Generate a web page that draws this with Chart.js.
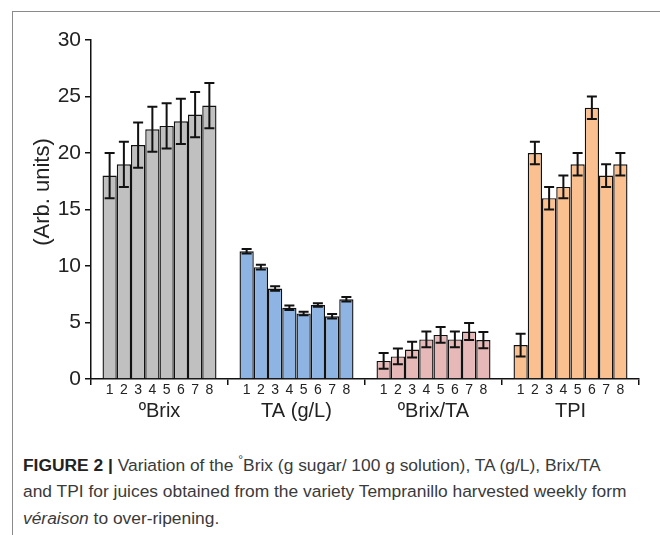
<!DOCTYPE html>
<html>
<head>
<meta charset="utf-8">
<script src="https://cdn.jsdelivr.net/npm/chart.js@4/dist/chart.umd.min.js"></script>
<style>
  body { margin: 0; background: #fff; width: 660px; height: 535px; overflow: hidden; position: relative; }
  #frame { position: absolute; left: 12px; top: 11px; width: 700px; height: 540px; border: 1.5px solid #8a8a8a; }
  #wrap { position: absolute; left: 0; top: 0; width: 660px; height: 430px; }
  #caption { position: absolute; left: 23px; top: 447px; font-family: "Liberation Sans", Arial, sans-serif;
    font-size: 17.4px; line-height: 26.5px; color: #3a3a3a; white-space: nowrap; }
  #caption b { color: #222; }
</style>
</head>
<body>
<div id="frame"></div>
<div id="wrap"><canvas id="myChart" width="660" height="430"></canvas></div>
<div id="caption"><b>FIGURE 2 |</b> Variation of the <sup style="font-size:12px">°</sup>Brix (g sugar/ 100 g solution), TA (g/L), Brix/TA<br>and TPI for juices obtained from the variety Tempranillo harvested weekly form<br><i>véraison</i> to over-ripening.</div>
<script>
const groups = ['ºBrix', 'TA (g/L)', 'ºBrix/TA', 'TPI'];
const weeks = ['1', '2', '3', '4', '5', '6', '7', '8'];

const brix = [18.0, 19.0, 20.7, 22.1, 22.4, 22.8, 23.4, 24.2];
const brixErr = [2, 2, 2, 2, 2, 2, 2, 2];
const ta = [11.3, 9.9, 8.0, 6.3, 5.8, 6.55, 5.55, 7.05];
const taErr = [0.2, 0.2, 0.2, 0.2, 0.15, 0.15, 0.2, 0.2];
const ratio = [1.6, 2.0, 2.6, 3.5, 3.9, 3.5, 4.2, 3.45];
const ratioErr = [0.7, 0.7, 0.7, 0.7, 0.7, 0.7, 0.75, 0.72];
const tpi = [3, 20, 16, 17, 19, 24, 18, 19];
const tpiErr = [1, 1, 1, 1, 1, 1, 1, 1];

const groupColors = ['#c0c0c0', '#8db4e2', '#e6b9b8', '#fac090'];
const allValues = [brix, ta, ratio, tpi];
const allErrors = [brixErr, taErr, ratioErr, tpiErr];

// one dataset per week, one category per measured variable
const datasets = weeks.map((w, i) => ({
    label: 'Week ' + w,
    data: allValues.map(arr => arr[i]),
    backgroundColor: groupColors,
    borderColor: '#111',
    borderWidth: 1.4,
    barPercentage: 1,
    categoryPercentage: 0.832,
}));

const extras = {
    id: 'extras',
    afterDatasetsDraw(chart) {
        const c = chart.ctx;
        const y = chart.scales.y;
        c.save();
        c.strokeStyle = '#111';
        c.lineWidth = 2;
        chart.data.datasets.forEach((ds, i) => {
            const meta = chart.getDatasetMeta(i);
            meta.data.forEach((bar, j) => {
                const v = ds.data[j];
                const e = allErrors[j][i];
                const yt = y.getPixelForValue(v + e);
                const yb = y.getPixelForValue(v - e);
                c.beginPath();
                c.moveTo(bar.x, yt); c.lineTo(bar.x, yb);
                c.moveTo(bar.x - 5, yt); c.lineTo(bar.x + 5, yt);
                c.moveTo(bar.x - 5, yb); c.lineTo(bar.x + 5, yb);
                c.stroke();
            });
        });
        // week numbers under each bar
        c.fillStyle = '#222';
        c.font = '14px "Liberation Sans", Arial, sans-serif';
        c.textAlign = 'center';
        c.textBaseline = 'middle';
        chart.data.datasets.forEach((ds, i) => {
            chart.getDatasetMeta(i).data.forEach(bar => {
                c.fillText(weeks[i], bar.x, chart.chartArea.bottom + 11);
            });
        });
        // y axis title
        c.font = '22px "Liberation Sans", Arial, sans-serif';
        c.translate(43, 192);
        c.rotate(-Math.PI / 2);
        c.fillText('(Arb. units)', 0, 0);
        c.restore();
    }
};

const config = {
    type: 'bar',
    data: { labels: groups, datasets: datasets },
    options: {
        responsive: false,
        animation: false,
        layout: { padding: { top: 40, right: 21, left: 0, bottom: 0 } },
        scales: {
            x: {
                grid: { display: true, drawOnChartArea: false, offset: true, tickLength: 6, color: '#111', lineWidth: 1.5 },
                border: { color: '#111', width: 1.5 },
                ticks: { color: '#222', padding: 14, font: { family: '"Liberation Sans", Arial, sans-serif', size: 20 } },
                afterFit(scale) { scale.height = 51; }
            },
            y: {
                min: 0,
                max: 30,
                grid: { drawOnChartArea: false, tickLength: 6, color: '#111', lineWidth: 1.5 },
                border: { color: '#111', width: 1.5 },
                ticks: { stepSize: 5, color: '#222', padding: 4, font: { family: '"Liberation Sans", Arial, sans-serif', size: 21 } },
                afterFit(scale) { scale.width = 91; }
            }
        },
        plugins: {
            legend: { display: false },
            tooltip: { enabled: false }
        }
    },
    plugins: [extras]
};

const myChart = new Chart(document.getElementById('myChart'), config);
</script>
</body>
</html>
